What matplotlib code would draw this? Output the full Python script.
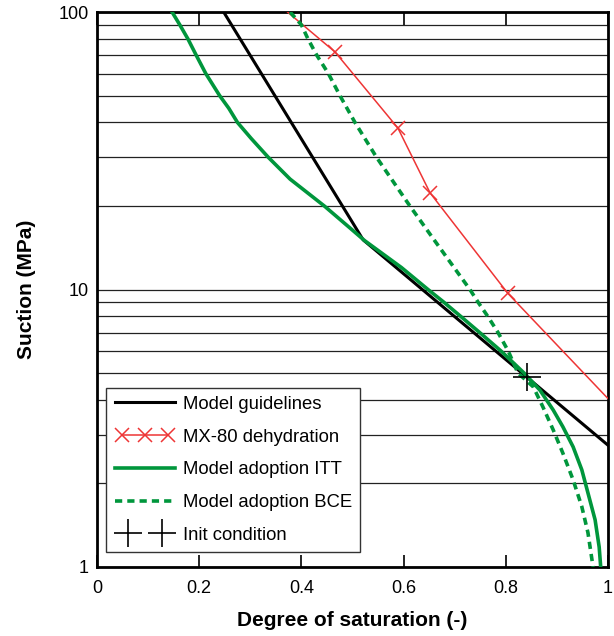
import matplotlib
matplotlib.use('Agg')
import matplotlib.pyplot as plt
from matplotlib.legend_handler import HandlerLine2D
from matplotlib.ticker import FixedLocator, FuncFormatter, LogLocator, NullFormatter

plt.rcParams['font.family'] = ['Liberation Sans', 'DejaVu Sans']

# Model guidelines (black)
guide_s = [0.248, 0.521, 1.0]
guide_psi = [100, 15.1, 2.75]

# MX-80 dehydration (red, markers on inner points)
mx_s = [0.373, 0.466, 0.589, 0.652, 0.804, 1.0]
mx_psi = [100, 71.8, 38.2, 22.3, 9.7, 4.05]

# Model adoption ITT (green solid)
itt_s = [0.147, 0.162, 0.178, 0.194, 0.213, 0.240, 0.258, 0.275, 0.302, 0.335,
         0.378, 0.445, 0.493, 0.524, 0.596, 0.648, 0.679, 0.712, 0.749, 0.791,
         0.836, 0.867, 0.893, 0.912, 0.932, 0.949, 0.961, 0.975, 0.983, 0.986]
itt_psi = [100, 90, 80, 70, 60, 50, 45, 40, 35, 30,
           25, 20, 16.8, 15, 12, 10, 9, 8, 7, 6,
           5, 4.34, 3.68, 3.20, 2.71, 2.24, 1.85, 1.48, 1.18, 1.0]

# Model adoption BCE (green dashed)
bce_s = [0.378, 0.400, 0.413, 0.430, 0.453, 0.4755, 0.505, 0.547, 0.6125, 0.661,
         0.730, 0.746, 0.765, 0.785, 0.805, 0.824, 0.854, 0.873, 0.893, 0.912,
         0.932, 0.949, 0.961, 0.971]
bce_psi = [100, 90, 80, 70, 60, 50, 40, 30, 20, 15,
           10, 9, 8, 7, 6, 5, 4.46, 3.77, 3.12, 2.57,
           2.06, 1.65, 1.33, 1.0]

# Init condition
init_s = [0.841]
init_psi = [4.84]

x_ticks = [0, 0.2, 0.4, 0.6, 0.8, 1.0]

green = '#00963c'
red = '#ee3535'

fig = plt.figure(figsize=(6.14, 6.36), dpi=100)
ax = fig.add_axes([0.158, 0.1085, 0.832, 0.8725])

ax.plot(guide_s, guide_psi, color='k', lw=2.2, label='Model guidelines', zorder=4)
ax.plot(mx_s, mx_psi, color=red, lw=1.1, marker='x', ms=10, mew=1.1,
        markevery=[1, 2, 3, 4], label='MX-80 dehydration', zorder=3)
ax.plot(itt_s, itt_psi, color=green, lw=2.6, label='Model adoption ITT', zorder=5)
ax.plot(bce_s, bce_psi, color=green, lw=2.6, linestyle=(0, (2.0, 1.4)),
        label='Model adoption BCE', zorder=5)
ax.plot(init_s, init_psi, color='k', lw=0, marker='+', ms=20, mew=1.2,
        label='Init condition', zorder=6)

ax.set_yscale('log')
ax.set_xlim(0, 1)
ax.set_ylim(1, 100)

# horizontal grid lines at every decade subdivision
ax.yaxis.set_major_locator(FixedLocator([1, 10, 100]))
ax.yaxis.set_minor_locator(LogLocator(base=10, subs=range(2, 10)))
ax.yaxis.set_minor_formatter(NullFormatter())
ax.yaxis.set_major_formatter(FuncFormatter(lambda v, p: '%g' % v))
ax.yaxis.grid(True, which='both', color='#222222', lw=0.9)
ax.tick_params(axis='y', which='both', length=0, labelsize=13, pad=6)

ax.set_xticks(x_ticks)
ax.xaxis.set_major_formatter(FuncFormatter(lambda v, p: '%g' % v))
ax.tick_params(axis='x', direction='in', length=9, width=1.2, top=True,
               labelsize=13, pad=9.5)

for sp in ax.spines.values():
    sp.set_linewidth(2)

ax.set_xlabel('Degree of saturation (-)', fontsize=15, fontweight='bold', labelpad=10)
ax.set_ylabel('Suction (MPa)', fontsize=15, fontweight='bold', labelpad=16)

leg = ax.legend(loc='lower left', bbox_to_anchor=(0.018, 0.027), borderaxespad=0,
                fontsize=13.3, handlelength=3.3, handletextpad=0.4,
                labelspacing=0.85, borderpad=0.45, fancybox=False,
                framealpha=1, edgecolor='#333333',
                handler_map={ax.lines[1]: HandlerLine2D(numpoints=3, marker_pad=0.4),
                             ax.lines[4]: HandlerLine2D(numpoints=2, marker_pad=0.75)})
leg.get_frame().set_linewidth(1.0)

fig.savefig('out.png', dpi=100)
